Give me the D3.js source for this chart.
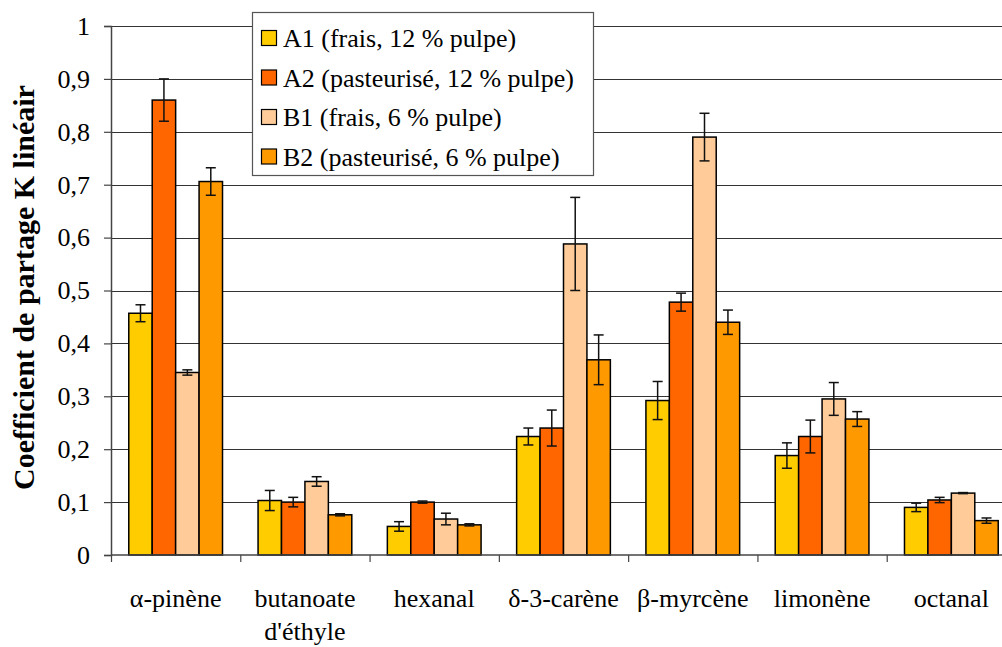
<!DOCTYPE html>
<html>
<head>
<meta charset="utf-8">
<script src="https://cdn.jsdelivr.net/npm/d3@7"></script>
<style>
  body { margin: 0; background: #fff; }
  svg text { font-family: "Liberation Serif", Tinos, "Times New Roman", Times, "DejaVu Serif", serif; }
</style>
</head>
<body>
<svg id="chart" width="1002" height="647"></svg>
<script>
(function () {
  'use strict';

  // categories (multi-line labels split on |)
  var categories = ['α-pinène', 'butanoate|d\'éthyle', 'hexanal', 'δ-3-carène', 'β-myrcène', 'limonène', 'octanal'];
  var seriesNames = ['A1 (frais, 12 % pulpe)', 'A2 (pasteurisé, 12 % pulpe)', 'B1 (frais, 6 % pulpe)', 'B2 (pasteurisé, 6 % pulpe)'];
  var seriesColors = ['#ffcc00', '#ff6600', '#ffcc99', '#ff9900'];

  var valuesA1 = [0.457, 0.103, 0.054, 0.224, 0.292, 0.188, 0.090];
  var valuesA2 = [0.860, 0.100, 0.100, 0.240, 0.478, 0.224, 0.104];
  var valuesB1 = [0.345, 0.139, 0.068, 0.588, 0.790, 0.295, 0.117];
  var valuesB2 = [0.706, 0.076, 0.057, 0.369, 0.440, 0.257, 0.065];

  var errorsA1 = [0.016, 0.019, 0.009, 0.016, 0.036, 0.024, 0.008];
  var errorsA2 = [0.040, 0.009, 0.002, 0.034, 0.017, 0.031, 0.005];
  var errorsB1 = [0.005, 0.009, 0.011, 0.088, 0.045, 0.031, 0.001];
  var errorsB2 = [0.026, 0.002, 0.002, 0.047, 0.023, 0.014, 0.005];

  var yTicks = [0, 0.1, 0.2, 0.3, 0.4, 0.5, 0.6, 0.7, 0.8, 0.9, 1];
  var yTitle = 'Coefficient de partage K linéaire';

  var series = [
    { name: seriesNames[0], color: seriesColors[0], values: valuesA1, errors: errorsA1 },
    { name: seriesNames[1], color: seriesColors[1], values: valuesA2, errors: errorsA2 },
    { name: seriesNames[2], color: seriesColors[2], values: valuesB1, errors: errorsB1 },
    { name: seriesNames[3], color: seriesColors[3], values: valuesB2, errors: errorsB2 }
  ];

  var svg = d3.select('#chart');
  var plot = { left: 111, right: 1016, top: 26, bottom: 555 };
  var fontSize = 26;

  var y = d3.scaleLinear().domain([0, 1]).range([plot.bottom, plot.top]);
  var x = d3.scaleBand()
    .domain(d3.range(categories.length))
    .range([plot.left, plot.right]);
  var groupWidth = x.step() * 0.725;
  var x1 = d3.scaleBand()
    .domain(d3.range(series.length))
    .range([(x.step() - groupWidth) / 2, (x.step() + groupWidth) / 2]);

  // gridlines
  svg.append('g')
    .selectAll('line')
    .data(yTicks.filter(function (t) { return t > 0; }))
    .enter()
    .append('line')
    .attr('x1', plot.left)
    .attr('x2', plot.right)
    .attr('y1', function (d) { return Math.round(y(d)) + 0.5; })
    .attr('y2', function (d) { return Math.round(y(d)) + 0.5; })
    .attr('stroke', '#333')
    .attr('stroke-width', 1.2);

  // bars
  var groups = svg.append('g')
    .selectAll('g')
    .data(series)
    .enter()
    .append('g')
    .attr('fill', function (s) { return s.color; });

  groups.selectAll('rect')
    .data(function (s, si) {
      return s.values.map(function (v, ci) { return { si: si, ci: ci, v: v, e: s.errors[ci] }; });
    })
    .enter()
    .append('rect')
    .attr('x', function (d) { return x(d.ci) + x1(d.si); })
    .attr('width', x1.bandwidth())
    .attr('y', function (d) { return y(d.v); })
    .attr('height', function (d) { return y(0) - y(d.v); })
    .attr('stroke', '#000')
    .attr('stroke-width', 1.5);

  // error bars
  var errs = svg.append('g')
    .attr('stroke', '#111')
    .attr('stroke-width', 1.5)
    .selectAll('g')
    .data(groups.selectAll('rect').data())
    .enter()
    .append('g')
    .attr('transform', function (d) { return 'translate(' + (x(d.ci) + x1(d.si) + x1.bandwidth() / 2) + ',0)'; });

  errs.append('line')
    .attr('y1', function (d) { return y(d.v + d.e); })
    .attr('y2', function (d) { return y(d.v - d.e); });
  errs.append('line')
    .attr('x1', -5).attr('x2', 5)
    .attr('y1', function (d) { return y(d.v + d.e); })
    .attr('y2', function (d) { return y(d.v + d.e); });
  errs.append('line')
    .attr('x1', -5).attr('x2', 5)
    .attr('y1', function (d) { return y(d.v - d.e); })
    .attr('y2', function (d) { return y(d.v - d.e); });

  // y axis
  var yAxis = svg.append('g')
    .attr('transform', 'translate(' + plot.left + ',0)')
    .call(d3.axisLeft(y)
      .tickValues(yTicks)
      .tickSize(7)
      .tickPadding(14)
      .tickFormat(function (d) { return String(d).replace('.', ','); }));
  yAxis.attr('font-family', null).attr('font-size', fontSize);
  yAxis.select('.domain').attr('stroke', '#444').attr('stroke-width', 1.5);
  yAxis.selectAll('.tick line').attr('stroke', '#444').attr('stroke-width', 1.2);
  yAxis.selectAll('.tick text').attr('fill', '#000');

  // x axis
  svg.append('line')
    .attr('x1', plot.left).attr('x2', plot.right)
    .attr('y1', plot.bottom).attr('y2', plot.bottom)
    .attr('stroke', '#444').attr('stroke-width', 1.5);

  svg.append('g')
    .selectAll('line')
    .data(d3.range(categories.length + 1))
    .enter()
    .append('line')
    .attr('x1', function (i) { return plot.left + i * x.step() + 0.5; })
    .attr('x2', function (i) { return plot.left + i * x.step() + 0.5; })
    .attr('y1', plot.bottom)
    .attr('y2', plot.bottom + 7)
    .attr('stroke', '#444')
    .attr('stroke-width', 1.2);

  var xLabels = svg.append('g')
    .attr('font-size', fontSize)
    .attr('text-anchor', 'middle')
    .selectAll('text')
    .data(categories)
    .enter()
    .append('text')
    .attr('x', function (d, i) { return x(i) + x.bandwidth() / 2; })
    .attr('y', 607);

  xLabels.selectAll('tspan')
    .data(function (d) { return d.split('|'); })
    .enter()
    .append('tspan')
    .attr('x', function () { return d3.select(this.parentNode).attr('x'); })
    .attr('dy', function (d, i) { return i === 0 ? 0 : 33; })
    .text(function (d) { return d; });

  // y title, clipped at the top like the original
  svg.append('clipPath')
    .attr('id', 'title-clip')
    .append('rect')
    .attr('x', 0).attr('y', 85).attr('width', 60).attr('height', 520);

  svg.append('g')
    .attr('clip-path', 'url(#title-clip)')
    .append('text')
    .attr('transform', 'translate(34,490) rotate(-90)')
    .attr('font-size', 30)
    .attr('font-weight', 'bold')
    .text(yTitle);

  // legend
  var legend = svg.append('g');
  legend.append('rect')
    .attr('x', 252.5).attr('y', 12.5)
    .attr('width', 341).attr('height', 163)
    .attr('fill', '#fff')
    .attr('stroke', '#555')
    .attr('stroke-width', 1.2);

  var items = legend.selectAll('g.item')
    .data(series)
    .enter()
    .append('g')
    .attr('class', 'item')
    .attr('transform', function (d, i) { return 'translate(0,' + (38 + i * 39.5) + ')'; });

  items.append('rect')
    .attr('x', 261.5).attr('y', -7.5)
    .attr('width', 15).attr('height', 15)
    .attr('fill', function (d) { return d.color; })
    .attr('stroke', '#000')
    .attr('stroke-width', 1.2);

  items.append('text')
    .attr('x', 283)
    .attr('y', 9)
    .attr('font-size', fontSize)
    .text(function (d) { return d.name; });
}());
</script>
</body>
</html>
